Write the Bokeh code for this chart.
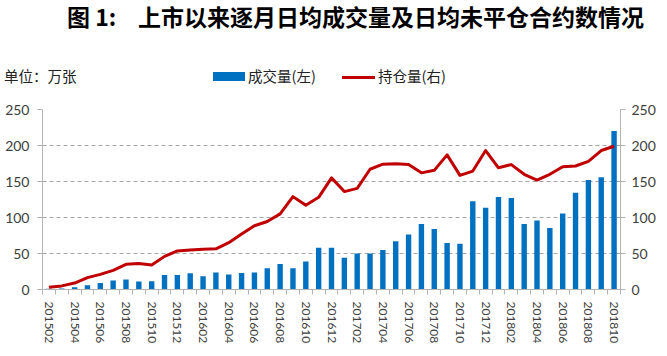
from bokeh.plotting import figure
from bokeh.layouts import column
from bokeh.models import ColumnDataSource, Range1d, LinearAxis, FixedTicker, Div
from bokeh.embed import file_html
from bokeh.resources import INLINE

months = ["201502", "201503", "201504", "201505", "201506", "201507", "201508",
          "201509", "201510", "201511", "201512",
          "201601", "201602", "201603", "201604", "201605", "201606", "201607",
          "201608", "201609", "201610", "201611", "201612",
          "201701", "201702", "201703", "201704", "201705", "201706", "201707",
          "201708", "201709", "201710", "201711", "201712",
          "201801", "201802", "201803", "201804", "201805", "201806", "201807",
          "201808", "201809", "201810"]

volume = [1, 1.5, 3, 6, 9, 12.5, 14, 11, 11.5, 20, 20,
          22.5, 18.5, 23.5, 21, 23, 23.5, 29.5, 35.5, 29.5, 39, 58, 58,
          44, 50, 50, 55, 67, 76.5, 91, 84, 64.5, 63.5, 122.5, 113.5,
          128.5, 127, 91, 96, 85.5, 105.5, 134.5, 152, 156, 220]

holding = [3, 5, 9, 16.5, 21, 26.5, 35, 36, 34, 46, 53.5,
           55, 56, 56.5, 65, 77, 88.5, 94.5, 105, 129, 117, 128, 155,
           136, 140.5, 167, 174, 174.5, 173.5, 162, 165.5, 187, 158.5, 164.5, 193,
           169, 173.5, 160, 152, 160, 170.5, 171.5, 178, 193, 199]

y_ticks = [0, 50, 100, 150, 200, 250]

title_prefix = "图 1:"
title_text = "上市以来逐月日均成交量及日均未平仓合约数情况"
unit_text = "单位：万张"
vol_name = "成交量(左)"
hold_name = "持仓量(右)"

BAR_COLOR = "#0070C0"
LINE_COLOR = "#C00000"
AXIS_COLOR = "#b3b3b3"
LABEL_COLOR = "#404040"
NUM_FONT = "Lato"
CJK = "Noto Sans CJK SC"

W = 659
HH = 101      # header block height
MH = 247      # chart height

# ---------------- header: title, unit note and legend ----------------
def span(txt, left, top, size, weight="normal", color="#222222"):
    return (f'<span style="position:absolute;left:{left}px;top:{top}px;'
            f'font-family:\'{CJK}\';font-size:{size}px;font-weight:{weight};'
            f'line-height:1;white-space:nowrap;color:{color};">{txt}</span>')

def swatch(left, top, w, h, color):
    return (f'<span style="position:absolute;left:{left}px;top:{top}px;'
            f'width:{w}px;height:{h}px;background:{color};"></span>')

header_html = (
    f'<div style="position:relative;width:{W}px;height:{HH}px;margin:0;padding:0;">'
    + span(title_prefix, 67, 5, 23, "bold", "#000000")
    + span(title_text, 138, 5, 23, "bold", "#000000")
    + span(unit_text, 4, 69, 14.5)
    + swatch(213, 72, 32, 9, BAR_COLOR)
    + span(vol_name, 248, 69, 14.5)
    + swatch(342, 76, 33, 3, LINE_COLOR)
    + span(hold_name, 378, 69, 14.5)
    + '</div>'
)
header = Div(text=header_html, width=W, height=HH, margin=0)

# ---------------- main chart ----------------
idx = list(range(len(months)))
src = ColumnDataSource(dict(x=idx, month=months, volume=volume, holding=holding))

p = figure(width=W, height=MH, output_backend="svg", toolbar_location=None,
           x_range=Range1d(-0.5, len(months) - 0.5), y_range=Range1d(0, 250),
           min_border_left=42, min_border_right=39, min_border_top=8,
           min_border_bottom=59, y_axis_location=None, margin=0)
p.outline_line_color = None
p.background_fill_color = "white"
p.border_fill_color = "white"
p.extra_y_ranges = {"right": Range1d(0, 250)}

p.vbar(x="x", top="volume", width=0.42, source=src,
       fill_color=BAR_COLOR, line_color=None)
p.line(x="x", y="holding", source=src, y_range_name="right",
       line_color=LINE_COLOR, line_width=3, line_join="round")

left = LinearAxis(ticker=FixedTicker(ticks=y_ticks))
right = LinearAxis(ticker=FixedTicker(ticks=y_ticks), y_range_name="right")
for ax in (left, right):
    ax.axis_line_color = AXIS_COLOR
    ax.major_tick_line_color = AXIS_COLOR
    ax.major_tick_out = 5
    ax.major_tick_in = 0
    ax.minor_tick_line_color = None
    ax.major_label_text_font = NUM_FONT
    ax.major_label_text_font_size = "14px"
    ax.major_label_text_color = LABEL_COLOR
left.major_label_standoff = 8
right.major_label_standoff = 6
p.add_layout(left, "left")
p.add_layout(right, "right")

xa = p.xaxis[0]
xa.ticker = FixedTicker(ticks=idx[::2],
                        minor_ticks=[i - 0.5 for i in range(len(months) + 1)])
xa.major_label_overrides = {i: months[i] for i in idx[::2]}
xa.major_label_orientation = "vertical"
xa.major_tick_line_color = None
xa.minor_tick_line_color = AXIS_COLOR
xa.minor_tick_out = 5
xa.minor_tick_in = 0
xa.axis_line_color = AXIS_COLOR
xa.major_label_text_font = NUM_FONT
xa.major_label_text_font_size = "12px"
xa.major_label_text_color = LABEL_COLOR
xa.major_label_standoff = 6

p.xgrid.grid_line_color = None
p.ygrid.grid_line_color = "#a6a6a6"
p.ygrid.grid_line_dash = "4 3"
p.ygrid.grid_line_width = 1
p.ygrid.ticker = FixedTicker(ticks=y_ticks[1:])

layout = column(header, p, spacing=0)
open("out.html", "w").write(file_html(layout, INLINE))
